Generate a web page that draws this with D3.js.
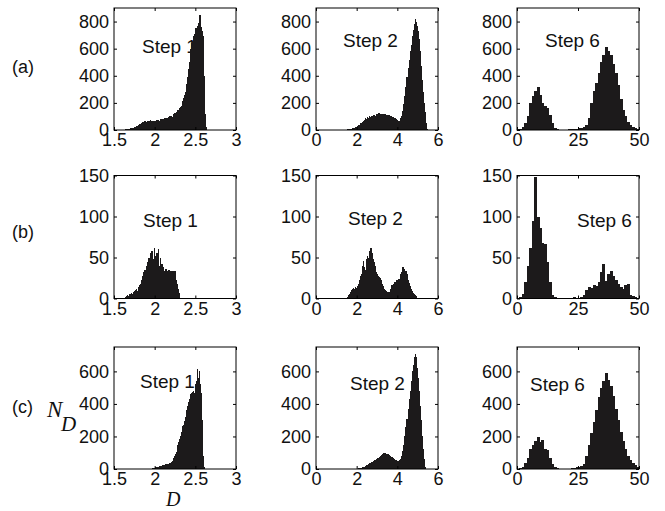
<!DOCTYPE html>
<html><head><meta charset="utf-8">
<script src="https://cdn.jsdelivr.net/npm/d3@7"></script>
<style>body{margin:0;background:#fff}</style>
</head><body>
<svg id="chart" width="665" height="511"></svg>
<script>
// ---------- data ----------
const rowLabels = ["(a)", "(b)", "(c)"];
const stepLabels = ["Step 1", "Step 2", "Step 6"];
const xDomains = [[1.5, 3], [0, 6], [0, 50]];
const xTickValues = [[1.5, 2, 2.5, 3], [0, 2, 4, 6], [0, 25, 50]];
const yDomains = [[0, 900], [0, 150], [0, 750]];
const yTickValues = [[0, 200, 400, 600, 800], [0, 50, 100, 150], [0, 200, 400, 600]];
const binWidths = [0.01, 0.05, 1];
const binStarts = [[1.60, 1.40, 0], [1.62, 1.50, 0], [1.95, 1.90, 0]];

const countsA1 = [2,3,3,4,5,5,6,8,8,10,
  12,13,15,16,20,22,25,28,30,35,
  38,45,42,55,50,60,48,65,58,62,
  70,55,68,60,72,58,66,62,70,64,
  68,60,75,66,72,64,80,70,78,72,
  82,76,88,80,92,85,96,90,100,95,
  105,98,115,108,125,118,135,130,150,145,
  160,170,180,195,215,235,255,280,300,340,
  390,450,500,550,600,640,660,690,710,730,
  750,700,770,790,720,850,760,740,730,690,
  400,120,20];
const countsA2 = [2,3,4,5,6,8,10,12,15,18,
  22,25,30,40,35,50,55,60,70,75,
  85,80,95,90,100,95,105,100,110,98,
  105,120,110,125,115,120,108,115,112,118,
  105,110,100,108,98,100,92,95,88,90,
  80,75,65,60,70,85,100,140,190,250,
  320,390,460,520,580,630,690,740,780,820,
  800,770,730,670,580,470,370,280,200,130,
  50,10];
const countsA3 = [5,10,25,50,100,200,250,290,315,260,
  200,180,165,110,50,15,5,2,2,2,
  3,4,6,8,10,12,15,25,40,90,
  200,290,350,420,500,550,610,580,550,490,
  420,330,230,150,100,60,40,25,15,5];
const countsB1 = [1,2,2,3,4,3,5,6,5,7,
  6,8,9,8,10,11,9,12,14,16,
  18,22,25,28,32,35,30,40,45,38,
  50,42,55,46,58,48,40,62,52,45,
  56,44,60,40,50,36,42,34,38,30,
  33,36,30,34,28,35,32,34,30,33,
  34,28,33,30,22,18,12,7,3,1];
const countsB2 = [2,4,6,8,10,12,13,12,14,13,
  15,18,22,28,30,40,46,38,35,48,
  52,50,58,62,55,48,45,40,32,30,
  28,26,25,22,18,15,12,10,9,8,
  7,8,7,12,16,15,18,20,19,22,
  20,24,22,30,32,38,36,34,33,30,
  22,19,15,12,9,7,5,4,3,1];
const countsB3 = [1,2,5,20,40,62,95,148,100,86,
  68,66,45,20,4,2,1,0,0,0,
  0,1,1,2,1,1,2,4,10,14,
  13,17,15,20,32,42,21,30,34,28,
  22,18,14,12,16,18,4,3,2,1];
const countsC1 = [2,3,4,5,6,8,10,12,14,15,
  16,18,17,20,22,24,26,25,28,30,
  28,30,32,35,38,42,48,55,65,80,
  90,105,125,145,165,185,205,225,245,265,
  270,295,320,345,365,390,410,430,450,460,
  470,475,480,470,500,520,540,615,560,600,
  520,470,440,300,80,10];
const countsC2 = [1,2,3,4,5,6,8,10,12,15,
  18,22,26,30,34,38,42,46,50,55,
  58,62,66,70,75,80,85,90,96,100,
  95,88,92,85,80,75,72,68,62,58,
  55,50,47,50,55,60,80,110,150,200,
  260,310,370,430,480,540,600,640,690,710,
  690,620,560,480,390,300,200,120,60,15,
  3];
const countsC3 = [3,6,15,35,70,120,150,175,195,165,
  180,120,115,70,30,10,4,2,2,2,
  2,3,4,6,10,14,20,30,80,150,
  220,290,360,440,500,540,590,550,510,450,
  370,300,230,170,120,80,55,35,22,10];

const panelCounts = [[countsA1, countsA2, countsA3],
                     [countsB1, countsB2, countsB3],
                     [countsC1, countsC2, countsC3]];

// ---------- layout ----------
const colLeft = [114, 316, 517];
const plotW = 122;
const rowTop = [8, 175.5, 347];
const plotH = [122, 123, 122];
const stepPos = [[[28, 45], [27, 39], [28, 39]],
                 [[29, 51], [32, 49], [60, 51]],
                 [[26, 41], [34, 43], [13, 44]]];
const rowLabelPos = [[12, 73], [12, 238], [12, 413]];
const tickFont = "Liberation Sans, Arial, Helvetica, sans-serif";
const barColor = "#1c1a1b";

const svg = d3.select("#chart");
const defs = svg.append("defs");

for (let r = 0; r < 3; r++) {
  svg.append("text").attr("x", rowLabelPos[r][0]).attr("y", rowLabelPos[r][1])
    .attr("font-family", tickFont).attr("font-size", 18).attr("fill", "#111")
    .text(rowLabels[r]);
  for (let c = 0; c < 3; c++) {
    const x0 = colLeft[c], y0 = rowTop[r], h = plotH[r];
    const xs = d3.scaleLinear().domain(xDomains[c]).range([x0, x0 + plotW]);
    const ys = d3.scaleLinear().domain(yDomains[r]).range([y0 + h, y0]);
    const g = svg.append("g");
    const clipId = `clip${r}${c}`;
    defs.append("clipPath").attr("id", clipId).append("rect")
      .attr("x", x0).attr("y", y0).attr("width", plotW).attr("height", h);

    g.append("text").attr("x", x0 + stepPos[r][c][0]).attr("y", y0 + stepPos[r][c][1])
      .attr("font-family", tickFont).attr("font-size", 19).attr("fill", "#111")
      .text(stepLabels[c]);

    const counts = panelCounts[r][c];
    const w = binWidths[c], s = binStarts[r][c];
    const bins = counts.map((v, i) => ({ lo: s + i * w, hi: s + (i + 1) * w, v }));
    g.append("g").attr("clip-path", `url(#${clipId})`)
      .attr("shape-rendering", "crispEdges")
      .selectAll("rect").data(bins).join("rect")
      .attr("x", d => xs(d.lo))
      .attr("width", d => xs(d.hi) - xs(d.lo) + 0.6)
      .attr("y", d => ys(d.v))
      .attr("height", d => ys(0) - ys(d.v))
      .attr("fill", barColor);

    const tl = 3;
    const axB = d3.axisBottom(xs).tickValues(xTickValues[c]).tickSize(-tl).tickPadding(5).tickFormat(d3.format(""));
    const axT = d3.axisTop(xs).tickValues(xTickValues[c]).tickSize(-tl).tickFormat("");
    const axL = d3.axisLeft(ys).tickValues(yTickValues[r]).tickSize(-tl).tickPadding(5).tickFormat(d3.format(""));
    const axR = d3.axisRight(ys).tickValues(yTickValues[r]).tickSize(-tl).tickFormat("");
    const gb = g.append("g").attr("transform", `translate(0,${y0 + h})`).call(axB);
    const gt = g.append("g").attr("transform", `translate(0,${y0})`).call(axT);
    const gl = g.append("g").attr("transform", `translate(${x0},0)`).call(axL);
    const gr = g.append("g").attr("transform", `translate(${x0 + plotW},0)`).call(axR);
    [gb, gt, gl, gr].forEach(a => {
      a.select(".domain").remove();
      a.selectAll("line").attr("stroke", "#000");
      a.selectAll("text").attr("font-family", tickFont).attr("font-size", 18).attr("fill", "#111");
    });
    gb.selectAll("text").attr("dy", "0.62em");
    g.append("rect").attr("x", x0).attr("y", y0).attr("width", plotW).attr("height", h)
      .attr("fill", "none").attr("stroke", "#000").attr("stroke-width", 1);
  }
}

const nd = svg.append("text").attr("font-family", "Liberation Serif, Times New Roman, serif")
  .attr("font-style", "italic").attr("fill", "#111");
nd.append("tspan").attr("x", 47).attr("y", 417).attr("font-size", 23).text("N");
nd.append("tspan").attr("x", 61).attr("y", 431).attr("font-size", 21).text("D");
svg.append("text").attr("x", 166).attr("y", 506)
  .attr("font-family", "Liberation Serif, Times New Roman, serif")
  .attr("font-style", "italic").attr("font-size", 20).attr("fill", "#111").text("D");
</script>
</body></html>
